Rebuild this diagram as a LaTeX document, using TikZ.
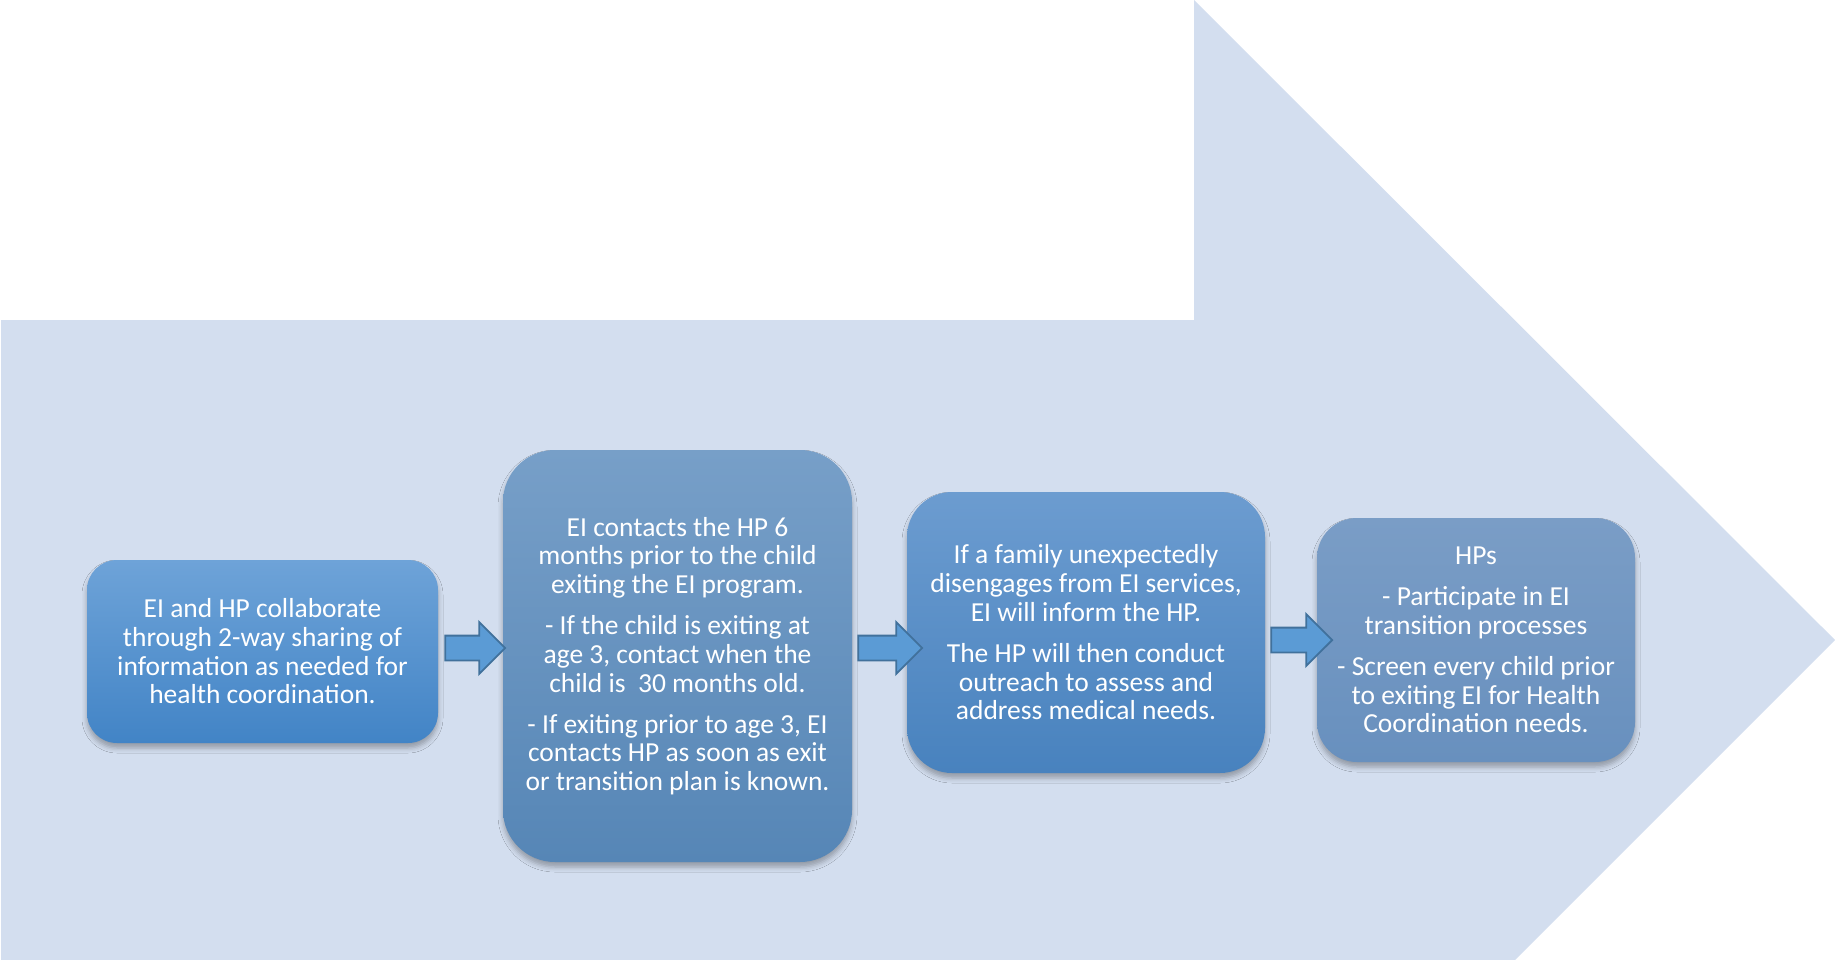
\documentclass[tikz,border=0pt]{standalone}
\usepackage{fontspec}
\setmainfont{Carlito}
\usetikzlibrary{shapes.arrows,shadows.blur}
\definecolor{bgarrow}{RGB}{211,222,239}
\definecolor{arrfill}{RGB}{91,155,213}
\definecolor{arrline}{RGB}{65,113,156}
\definecolor{bOneTop}{RGB}{110,163,216}
\definecolor{bOneBot}{RGB}{66,132,198}
\definecolor{bTwoTop}{RGB}{119,159,200}
\definecolor{bTwoBot}{RGB}{86,134,182}
\definecolor{bThrTop}{RGB}{108,156,208}
\definecolor{bThrBot}{RGB}{72,130,190}
\definecolor{bFouTop}{RGB}{122,157,198}
\definecolor{bFouBot}{RGB}{104,144,190}
\tikzset{
  stepbox/.style={rectangle, inner sep=0pt, align=center, text=white,
    font=\fontsize{27.5}{28.7}\selectfont,
    blur shadow={shadow xshift=0pt, shadow yshift=-5pt, shadow blur radius=5pt, shadow opacity=30}},
  smallarrow/.style={single arrow, single arrow head extend=13.5pt, inner xsep=0pt,
    inner ysep=11.5pt, minimum width=0pt, fill=arrfill, draw=arrline, line width=1.8pt,
    line join=miter}
}
\begin{document}
\begin{tikzpicture}[x=1pt,y=-1pt]
\useasboundingbox (0,0) rectangle (1835,960);
\begin{scope}
\clip (0,0) rectangle (1835,960);
\fill[bgarrow] (1,320) -- (1194,320) -- (1194,0) -- (1835,640) -- (1194,1281) -- (1194,962) -- (1,962) -- cycle;
\end{scope}
\node[stepbox, minimum width=351pt, minimum height=183pt, rounded corners=30pt,
  top color=bOneTop, bottom color=bOneBot] (b1) at (262.5,651.5)
  {EI and HP collaborate\\ through 2-way sharing of\\ information as needed for\\ health coordination.};
\node[stepbox, minimum width=349pt, minimum height=412pt, rounded corners=52pt,
  top color=bTwoTop, bottom color=bTwoBot] (b2) at (677.5,656)
  {EI contacts the HP 6\\ months prior to the child\\ exiting the EI program.\\[12.5pt]
   - If the child is exiting at\\ age 3, contact when the\\ child is\ \ 30 months old.\\[12.5pt]
   - If exiting prior to age 3, EI\\ contacts HP as soon as exit\\ or transition plan is known.};
\node[stepbox, minimum width=358pt, minimum height=281pt, rounded corners=45pt,
  top color=bThrTop, bottom color=bThrBot] (b3) at (1086,632.5)
  {If a family unexpectedly\\ disengages from EI services,\\ EI will inform the HP.\\[12.5pt]
   The HP will then conduct\\ outreach to assess and\\ address medical needs.};
\node[stepbox, minimum width=318pt, minimum height=244pt, rounded corners=40pt,
  top color=bFouTop, bottom color=bFouBot] (b4) at (1476,640)
  {HPs\\[12.5pt] - Participate in EI\\ transition processes\\[12.5pt]
   - Screen every child prior\\ to exiting EI for Health\\ Coordination needs.};
\node[smallarrow, minimum height=60pt] (a1) at (469,648) {};
\node[smallarrow, minimum height=64pt] (a2) at (884,648) {};
\node[smallarrow, minimum height=61pt] (a3) at (1295.5,640) {};
\end{tikzpicture}
\end{document}
